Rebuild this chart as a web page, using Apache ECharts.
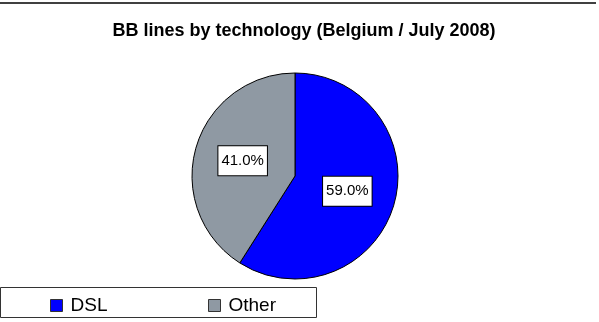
<!DOCTYPE html>
<html>
<head>
<meta charset="utf-8">
<script src="https://cdn.jsdelivr.net/npm/echarts@6/dist/echarts.min.js"></script>
<style>
html, body { margin: 0; padding: 0; background: #fff; }
#chart { width: 599px; height: 322px; }
</style>
</head>
<body>
<div id="chart"></div>
<script>
var categories = ['DSL', 'Other'];
var shares = [59.0, 41.0];
var colors = ['#0000FF', '#8F99A3'];
// left edge of each legend entry
var legendLeft = [45, 203];

var dom = document.getElementById('chart');
var myChart = echarts.init(dom);

var pieData = categories.map(function (c, i) {
    return { name: c, value: shares[i], itemStyle: { color: colors[i] } };
});

var font = 'Liberation Sans, Arial';

var option = {
    animation: false,
    title: {
        text: 'BB lines by technology (Belgium / July 2008)',
        left: 299,
        textAlign: 'center',
        top: 17,
        textStyle: { fontFamily: font, fontSize: 18, fontWeight: 'bold', color: '#000' }
    },
    graphic: [
        { type: 'line', shape: { x1: 0, y1: 3, x2: 596, y2: 3 }, style: { stroke: '#000', lineWidth: 1.5 } },
        { type: 'rect', shape: { x: 0.5, y: 287.5, width: 316, height: 30 }, style: { fill: '#fff', stroke: '#333', lineWidth: 1 }, z: -1 }
    ],
    legend: categories.map(function (c, i) {
        return {
            left: legendLeft[i],
            top: 291,
            itemWidth: 12,
            itemHeight: 12,
            icon: 'rect',
            data: [c],
            itemStyle: { borderColor: '#333', borderWidth: 1 },
            textStyle: { fontFamily: font, fontSize: 19, color: '#000', padding: [0, 0, 0, 3] }
        };
    }),
    series: [{
        type: 'pie',
        center: [295, 176],
        radius: 103,
        startAngle: 90,
        clockwise: true,
        data: pieData,
        itemStyle: { borderColor: '#000', borderWidth: 1 },
        label: {
            position: 'inside',
            formatter: function (p) { return p.value.toFixed(1) + '%'; },
            fontFamily: font,
            fontSize: 15,
            color: '#000',
            backgroundColor: '#fff',
            borderColor: '#000',
            borderWidth: 1,
            padding: [7, 3, 7, 3]
        },
        labelLine: { show: false },
        emphasis: { disabled: true }
    }]
};

if (option && typeof option === 'object') {
    myChart.setOption(option, true);
}
</script>
</body>
</html>
